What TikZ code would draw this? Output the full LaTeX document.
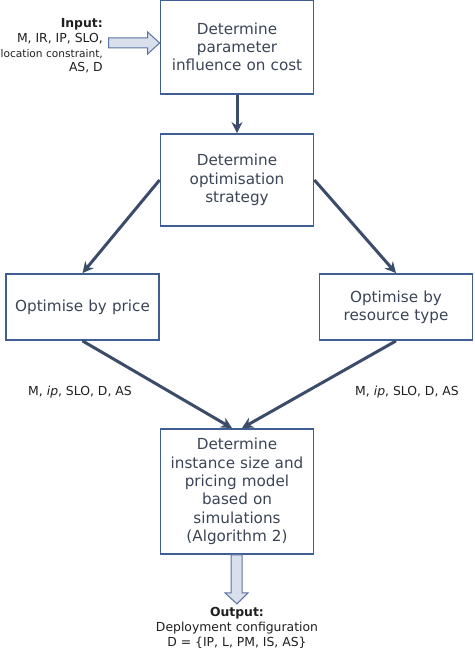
\documentclass[tikz,border=0pt]{standalone}
\usepackage{fontspec}
\setmainfont{DejaVu Sans}
\usetikzlibrary{arrows.meta}

\definecolor{boxline}{HTML}{3F5E94}
\definecolor{arrline}{HTML}{3B4C6B}
\definecolor{boxtext}{HTML}{3B4556}
\definecolor{hollowfill}{HTML}{D9E0EC}
\definecolor{hollowline}{HTML}{5B73A0}

\tikzset{
  stepbox/.style={draw=boxline, line width=1.8pt, fill=white, text=boxtext,
    minimum width=153pt, align=center, text width=145pt, inner sep=0pt,
    font=\fontsize{15.2}{18.3}\selectfont},
  flow/.style={draw=arrline, line width=3pt, -{Stealth[length=11pt,width=11pt]}},
  hollow/.style={draw=hollowline, line width=1pt, fill=hollowfill, line join=miter},
  small/.style={text=black!88, font=\fontsize{12.4}{14.8}\selectfont, inner sep=0pt}
}

\begin{document}
\begin{tikzpicture}[x=1pt, y=-1pt]
  \useasboundingbox (0,0) rectangle (474,652);
  % Process boxes, all measured from the top left corner.
  \node[stepbox, minimum height=94pt]  (infl)  at (237,47)    {Determine\\parameter\\influence on cost};
  \node[stepbox, minimum height=92pt]  (strat) at (237,180)   {Determine\\optimisation\\strategy};
  \node[stepbox, minimum height=66pt]  (price) at (82.5,307)  {Optimise by price};
  \node[stepbox, minimum height=66pt]  (rtype) at (396,307)   {Optimise by\\resource type};
  \node[stepbox, minimum height=125pt] (sim)   at (237,491.5) {Determine\\instance size and\\pricing model\\based on\\simulations\\(Algorithm 2)};
  % Input and output texts.
  \node[small, anchor=east, align=right] (input) at (103,46)
    {\textbf{Input:}\\M, IR, IP, SLO,\\{\fontsize{10.6}{14.8}\selectfont location constraint,}\\AS, D};
  \node[small, align=center] (output) at (237,628)
    {\textbf{Output:}\\Deployment configuration\\D = \{IP, L, PM, IS, AS\}};
  % Parameters passed on to the simulation.
  \node[small] (lpar) at (80,392)  {M, \textit{ip}, SLO, D, AS};
  \node[small] (rpar) at (407,392) {M, \textit{ip}, SLO, D, AS};
  % Connectors.
  \draw[flow] (infl.south) -- (strat.north);
  \draw[flow] (strat.west) -- (price.north);
  \draw[flow] (strat.east) -- (rtype.north);
  \draw[flow] (price.south) -- ([xshift=-5pt]sim.north);
  \draw[flow] (rtype.south) -- ([xshift=5pt]sim.north);
  % Hollow block arrows for input and output.
  \coordinate (intip)  at ([yshift=4pt]infl.west);
  \coordinate (outtip) at ([yshift=-49pt]sim.south);
  \draw[hollow] (intip) -- ++(-12,-11) -- ++(0,6) -- ++(-39,0) -- ++(0,10)
    -- ++(39,0) -- ++(0,6) -- cycle;
  \draw[hollow] (outtip) -- ++(-12,-11) -- ++(6,0) -- ++(0,-38) -- ++(11,0)
    -- ++(0,38) -- ++(6,0) -- cycle;
\end{tikzpicture}
\end{document}
